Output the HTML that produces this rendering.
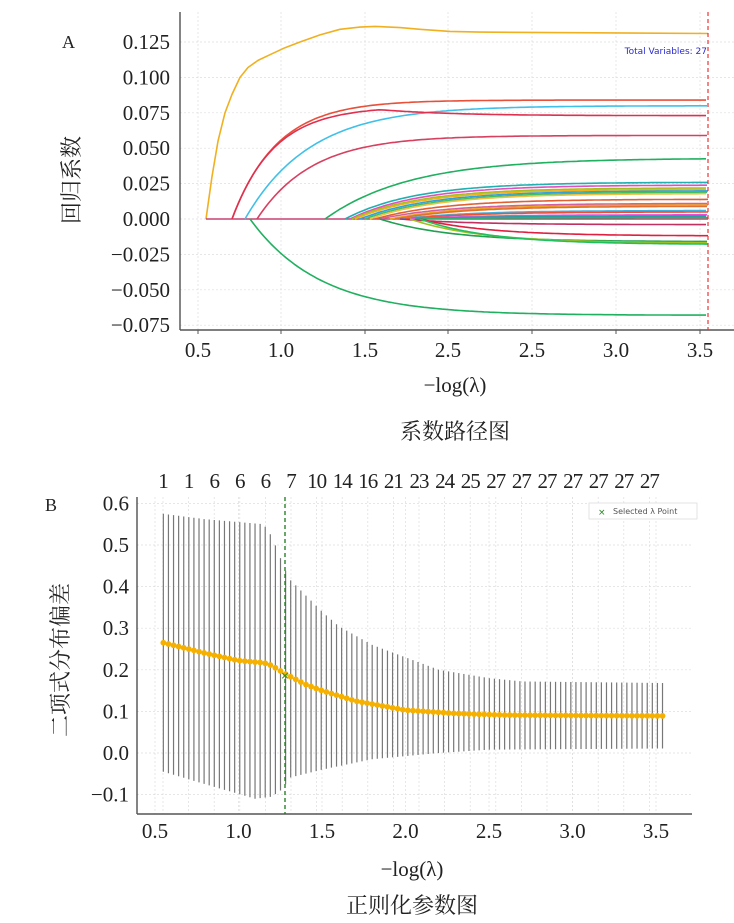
<!DOCTYPE html>
<html><head><meta charset="utf-8">
<style>
html,body{margin:0;padding:0;background:#fff;}
svg{display:block;}
text{font-family:"Liberation Serif","Noto Serif CJK SC",serif;fill:#222;}
</style></head>
<body>
<svg id="s" width="734" height="923" xmlns="http://www.w3.org/2000/svg">
<g id="ga" stroke="#ddd" stroke-width="0.7" stroke-dasharray="2,2"></g>
<line x1="180" y1="12" x2="180" y2="330" stroke="#333" stroke-width="1.2"/>
<line x1="180" y1="330" x2="734" y2="330" stroke="#555" stroke-width="1.5"/>
<g id="ca" fill="none" stroke-width="1.6" stroke-linejoin="round"></g>
<line x1="708" y1="12" x2="708" y2="330" stroke="#e33" stroke-width="1.2" stroke-dasharray="4,3"/>
<text x="707" y="54" font-size="9" text-anchor="end" style="font-family:'DejaVu Sans',sans-serif;fill:#2a2ad0">Total Variables: 27</text>
<g id="ya" font-size="21" text-anchor="end"></g>
<g id="xa" font-size="21" text-anchor="middle"></g>
<text x="62" y="48" font-size="18">A</text>
<text transform="translate(79,180) rotate(-90)" font-size="22" text-anchor="middle">回归系数</text>
<text x="455" y="392" font-size="21" text-anchor="middle">−log(λ)</text>
<text x="455" y="439" font-size="22" text-anchor="middle">系数路径图</text>

<g id="gb" stroke="#ddd" stroke-width="0.7" stroke-dasharray="2,2"></g>
<line x1="137" y1="497" x2="137" y2="814" stroke="#333" stroke-width="1.2"/>
<line x1="137" y1="814" x2="692" y2="814" stroke="#555" stroke-width="1.5"/>
<g id="eb" stroke="#777" stroke-width="1.2"></g>
<line x1="285" y1="497" x2="285" y2="814" stroke="#1a7a1a" stroke-width="1.3" stroke-dasharray="4,3"/>
<g id="pts" fill="#f5b000"></g>
<text x="285" y="679" font-size="11" text-anchor="middle" style="font-family:'DejaVu Sans',sans-serif;fill:#1a8a1a">×</text>
<rect x="589" y="503" width="108" height="16" fill="#fff" stroke="#ddd" stroke-width="0.8"/>
<text x="598" y="515" font-size="9" style="font-family:'DejaVu Sans',sans-serif;fill:#1a8a1a">×</text>
<text x="613" y="514" font-size="8" style="font-family:'DejaVu Sans',sans-serif;fill:#555">Selected λ Point</text>
<g id="yb" font-size="21" text-anchor="end"></g>
<g id="xb" font-size="21" text-anchor="middle"></g>
<g id="tb" font-size="21" text-anchor="middle" letter-spacing="-1"></g>
<text x="45" y="511" font-size="18">B</text>
<text transform="translate(68,660) rotate(-90)" font-size="22" text-anchor="middle">二项式分布偏差</text>
<text x="412" y="876" font-size="21" text-anchor="middle">−log(λ)</text>
<text x="412" y="913" font-size="22" text-anchor="middle">正则化参数图</text>
</svg>
<script>
const NS="http://www.w3.org/2000/svg";
function el(p,t,a,txt){const e=document.createElementNS(NS,t);for(const k in a)e.setAttribute(k,a[k]);if(txt!==undefined)e.textContent=txt;document.getElementById(p).appendChild(e);return e;}
const Y0=219,PY=35.4/0.025;
function ya(v){return Y0-v*PY;}
const yl=[0.125,0.100,0.075,0.050,0.025,0.000,-0.025,-0.050,-0.075];
yl.forEach(v=>{const y=ya(v);el("ga","line",{x1:180,y1:y,x2:734,y2:y});el("ya","text",{x:170,y:y+7},(v<0?"−":"")+Math.abs(v).toFixed(3));});
const xt=[198,281,365,448,532,616,700],xlab=["0.5","1.0","1.5","2.5","2.5","3.0","3.5"];
xt.forEach((x,i)=>{el("ga","line",{x1:x,y1:12,x2:x,y2:330});el("xa","line",{x1:x,y1:330,x2:x,y2:334,stroke:"#555"});el("xa","text",{x:x,y:357},xlab[i]);});
const yel=[[206,0],[212,0.03],[218,0.055],[225,0.075],[232,0.088],[240,0.1],[248,0.107],[258,0.112],[270,0.116],[285,0.121],[300,0.125],[320,0.13],[340,0.134],[360,0.1355],[375,0.136],[400,0.1352],[420,0.134],[450,0.1325],[480,0.132],[708,0.131]];
el("ca","path",{d:"M"+yel.map(p=>p[0]+","+ya(p[1]).toFixed(1)).join("L"),stroke:"#f0b020"});
el("ca","line",{x1:206,y1:Y0,x2:708,y2:Y0,stroke:"#c94070"});
const cur=[
[232,0.084,45,"#e8503a"],[245,0.080,65,"#40c0e8"],[257,0.059,55,"#d84060"],
[325,0.043,85,"#20b060"],[345,0.026,70,"#20b0b0"],[350,0.024,70,"#e050c0"],[352,0.022,70,"#a0c020"],
[355,0.021,70,"#f0b020"],[360,0.020,72,"#30a0e0"],[365,0.019,72,"#40c060"],[370,0.018,70,"#f0c040"],
[375,0.014,70,"#e06030"],[380,0.011,70,"#d060a0"],[390,0.010,70,"#f0a020"],[395,0.009,70,"#e07030"],
[400,0.006,70,"#40b0e0"],[405,0.005,70,"#f05030"],[410,0.003,70,"#e050e0"],[415,0.002,70,"#20a0a0"],
[420,0.001,70,"#30b070"],[400,-0.004,70,"#c03060"],[420,-0.012,70,"#e02040"],[380,-0.016,70,"#20a050"],
[410,-0.017,70,"#a0c020"],[420,-0.018,70,"#20c060"],[250,-0.068,70,"#20b060"]];
cur.forEach(c=>{let d="M"+c[0]+","+Y0;for(let x=c[0];x<=708;x+=3){const v=c[1]*(1-Math.exp(-(x-c[0])/c[2]));d+="L"+x+","+ya(v).toFixed(1);}el("ca","path",{d:d,stroke:c[3]});});
(function(){let d="M232,"+Y0;for(let x=232;x<=708;x+=3){const t=x-232;let v=0.0795*(1-Math.exp(-t/42));if(x>380)v-=0.0065*(1-Math.exp(-(x-380)/60));d+="L"+x+","+ya(v).toFixed(1);}el("ca","path",{d:d,stroke:"#e03050"});})();
const B0=753,PB=41.6;function yb(v){return B0-v*PB/0.1;}
function xb(v){return 155+(v-0.5)*167;}
for(let v=-0.1;v<=0.61;v+=0.1){const y=yb(v);el("gb","line",{x1:137,y1:y,x2:692,y2:y});el("yb","text",{x:129,y:y+7},(v<-0.01?"−":"")+Math.abs(v).toFixed(1));}
for(let i=0;i<7;i++){const v=0.5+i*0.5,x=xb(v);el("gb","line",{x1:x,y1:497,x2:x,y2:814});el("xb","text",{x:x,y:838},v.toFixed(1));}
const cnt=[1,1,6,6,6,7,10,14,16,21,23,24,25,27,27,27,27,27,27,27];
cnt.forEach((c,i)=>{const x=163+i*25.6;el("tb","text",{x:x,y:488},c);el("gb","line",{x1:x,y1:497,x2:x,y2:814});});
function lerp(pts,v){for(let i=0;i<pts.length-1;i++){if(v<=pts[i+1][0]){const t=(v-pts[i][0])/(pts[i+1][0]-pts[i][0]);return pts[i][1]+t*(pts[i+1][1]-pts[i][1]);}}return pts[pts.length-1][1];}
const M=[[0.55,0.265],[0.8,0.24],[1.0,0.222],[1.15,0.217],[1.2,0.21],[1.28,0.19],[1.4,0.165],[1.5,0.15],[1.7,0.125],[2.0,0.103],[2.3,0.095],[2.6,0.091],[3.6,0.089]];
const U=[[0.55,0.575],[0.8,0.562],[1.15,0.55],[1.2,0.52],[1.25,0.47],[1.3,0.42],[1.4,0.38],[1.5,0.34],[1.6,0.305],[1.8,0.26],[2.0,0.23],[2.2,0.2],[2.5,0.18],[2.7,0.172],[3.6,0.168]];
const L=[[0.55,-0.045],[0.8,-0.075],[1.1,-0.11],[1.2,-0.105],[1.27,-0.085],[1.3,-0.06],[1.5,-0.04],[1.8,-0.015],[2.2,0.0],[2.5,0.008],[3.6,0.011]];
for(let v=0.55;v<=3.56;v+=0.0305){const x=xb(v);el("eb","line",{x1:x,y1:yb(lerp(U,v)),x2:x,y2:yb(lerp(L,v))});el("pts","circle",{cx:x,cy:yb(lerp(M,v)),r:2.9});}
</script>
</body></html>
